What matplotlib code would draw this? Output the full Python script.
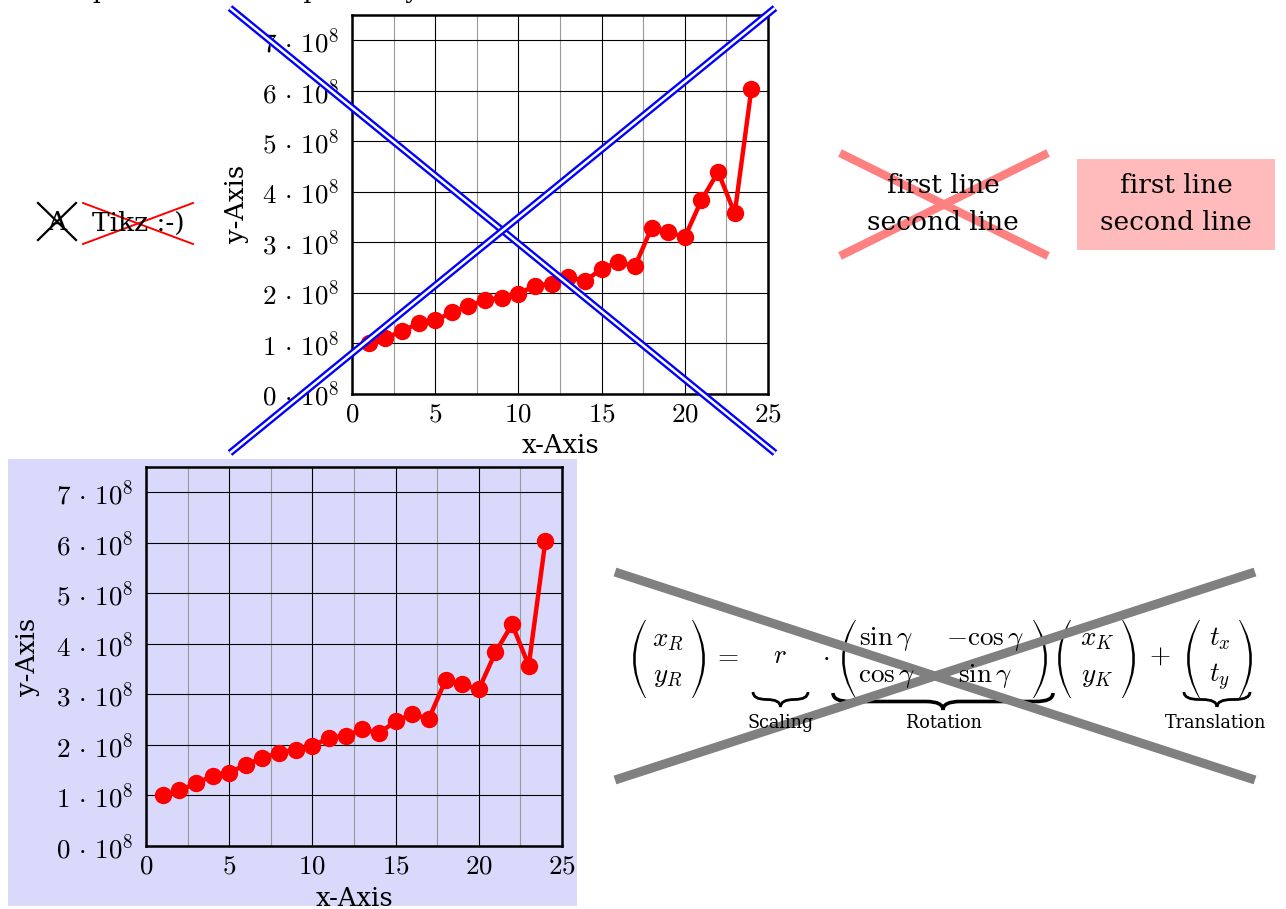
import matplotlib
matplotlib.use("Agg")
import matplotlib.pyplot as plt
from matplotlib.path import Path
from matplotlib.patches import PathPatch, Rectangle
from matplotlib.ticker import FixedLocator

plt.rcParams['font.family'] = ['DejaVu Serif']
plt.rcParams['mathtext.fontset'] = 'cm'

# ---- データ ----
x_vals = list(range(1, 25))
y_vals = [1.00, 1.10, 1.24, 1.39, 1.45, 1.61, 1.74, 1.85, 1.90, 1.98, 2.14, 2.18,
          2.31, 2.23, 2.47, 2.61, 2.52, 3.28, 3.20, 3.10, 3.83, 4.39, 3.57, 6.03]
y_unit = 1e8
x_ticks = [0, 5, 10, 15, 20, 25]
x_minor = [2.5, 7.5, 12.5, 17.5, 22.5]
y_ticks = [0, 1, 2, 3, 4, 5, 6, 7]
x_label = "x-Axis"
y_label = "y-Axis"
node_lines = "first line\nsecond line"
brace_labels = ["Scaling", "Rotation", "Translation"]
vec_R = [r'$x_R$', r'$y_R$']
mat_rot = [[r'$\sin\gamma$', r'$-\cos\gamma$'], [r'$\cos\gamma$', r'$\sin\gamma$']]
vec_K = [r'$x_K$', r'$y_K$']
vec_t = [r'$t_x$', r'$t_y$']

W, H = 1286, 909
fig = plt.figure(figsize=(W / 100, H / 100), dpi=100)

def px_axes(l, t, r, b, z):
    return fig.add_axes([l / W, 1 - b / H, (r - l) / W, (b - t) / H], zorder=z)

# ---- 背景 ----
ax_bg = fig.add_axes([0, 0, 1, 1], zorder=0)
ax_bg.set_xlim(0, W); ax_bg.set_ylim(H, 0); ax_bg.axis('off')
ax_bg.add_patch(Rectangle((8, 459), 569, 447, color='#d9d9fb', lw=0))

def draw_plot(ax):
    ax.set_facecolor('none')
    ax.plot(x_vals, [v * y_unit for v in y_vals], '-o', color='red', lw=3.2, ms=11.5)
    ax.set_xlim(0, 25)
    ax.set_ylim(0, 7.5 * y_unit)
    ax.set_xticks(x_ticks)
    ax.set_xticklabels([f'${t}$' for t in x_ticks])
    ax.xaxis.set_minor_locator(FixedLocator(x_minor))
    ax.set_yticks([t * y_unit for t in y_ticks])
    ax.set_yticklabels([rf'${t}\,\cdot\,10^{{8}}$' for t in y_ticks])
    ax.grid(which='major', color='black', lw=0.8)
    ax.grid(which='minor', axis='x', color='#999999', lw=0.8)
    ax.set_axisbelow(True)
    for s in ax.spines.values():
        s.set_linewidth(1.8)
    ax.tick_params(which='both', direction='in', length=0, labelsize=19.5)
    ax.tick_params(axis='x', pad=5)
    ax.tick_params(axis='y', pad=9)
    ax.set_xlabel(x_label, fontsize=18.5)
    ax.set_ylabel(y_label, fontsize=18.5)
    ax.xaxis.set_label_coords(0.5, -0.105)
    ax.yaxis.set_label_coords(-0.248, 0.5)

ax_top = px_axes(352, 15, 768, 393.6, 1)
draw_plot(ax_top)
ax_bot = px_axes(146, 467, 562, 846, 1)
draw_plot(ax_bot)
ax_bot.yaxis.set_label_coords(-0.255, 0.5)

# ---- 注記レイヤー ----
ax = fig.add_axes([0, 0, 1, 1], zorder=5)
ax.set_xlim(0, W); ax.set_ylim(H, 0); ax.axis('off')

# 上端で切れたタイトル
ax.text(22, -2, "Example data of a simple study", fontsize=18, va='baseline')

# 二重線の青いクロス
for (x0, y0, x1, y1) in [(230, 8, 775, 453), (230, 453, 775, 8)]:
    ax.plot([x0, x1], [y0, y1], color='blue', lw=5.2, solid_capstyle='butt')
    ax.plot([x0, x1], [y0, y1], color='white', lw=1.8, solid_capstyle='butt')

# A と Tikz :-)
ax.text(57, 222, "A", fontsize=19, ha='center', va='center')
ax.plot([38, 76], [203, 240], color='black', lw=1.6)
ax.plot([38, 76], [240, 203], color='black', lw=1.6)
ax.text(138, 223, "Tikz :-)", fontsize=19, ha='center', va='center')
ax.plot([83, 193], [203, 244], color='red', lw=1.4)
ax.plot([83, 193], [244, 203], color='red', lw=1.4)

# ピンクのクロスと箱
ax.plot([840, 1048], [153, 256], color='#ff8080', lw=6, solid_capstyle='butt')
ax.plot([840, 1048], [256, 153], color='#ff8080', lw=6, solid_capstyle='butt')
ax.text(943, 204, node_lines, fontsize=19, ha='center', va='center',
        linespacing=1.56, multialignment='center')
ax.add_patch(Rectangle((1077, 159), 198, 91, color='#ffbbbb', lw=0))
ax.text(1176, 204, node_lines, fontsize=19, ha='center', va='center',
        linespacing=1.56, multialignment='center')

# ---- 行列の式 ----
fs = 19.5
row_b = [645, 682]   # 各行のベースライン
mid_b = 663

def paren(xl, xr, top, bot, left=True, th=2.6, tip=0.9):
    mid = (top + bot) / 2
    if left:
        end, belly, end_in, belly_in = xr, xl, xr + tip, xl + th
    else:
        end, belly, end_in, belly_in = xl, xr, xl - tip, xr - th
    verts = [(end, top), (2 * belly - end, mid), (end, bot),
             (end_in, bot), (2 * belly_in - end_in, mid), (end_in, top),
             (end, top)]
    codes = [Path.MOVETO, Path.CURVE3, Path.CURVE3,
             Path.LINETO, Path.CURVE3, Path.CURVE3, Path.CLOSEPOLY]
    ax.add_patch(PathPatch(Path(verts, codes), color='black', lw=0))

def column(cx, entries):
    for yb, s in zip(row_b, entries):
        ax.text(cx, yb, s, fontsize=fs, ha='center', va='baseline')

paren(633, 645, 620, 698, True); paren(693, 705, 620, 698, False)
column(668, vec_R)
ax.text(726, mid_b, r'$=$', fontsize=fs, ha='center', va='baseline')
ax.text(780, mid_b, r'$r$', fontsize=fs, ha='center', va='baseline')
ax.text(826, mid_b, r'$\cdot$', fontsize=fs, ha='center', va='baseline')
paren(842, 855, 620, 698, True); paren(1034, 1047, 620, 698, False)
column(886, [mat_rot[0][0], mat_rot[1][0]])
column(985, [mat_rot[0][1], mat_rot[1][1]])
paren(1058, 1070, 620, 698, True); paren(1123, 1135, 620, 698, False)
column(1097, vec_K)
ax.text(1160, mid_b, r'$+$', fontsize=fs, ha='center', va='baseline')
paren(1187, 1199, 620, 698, True); paren(1240, 1252, 620, 698, False)
column(1220, vec_t)

def brace(x0, x1, y, h, lw=2.0):
    xm = (x0 + x1) / 2
    q = min(h, (x1 - x0) / 4)
    ym = y + h / 2
    verts = [(x0, y), (x0, ym), (x0 + q, ym),
             (xm - q, ym),
             (xm, ym), (xm, y + h),
             (xm, ym), (xm + q, ym),
             (x1 - q, ym),
             (x1, ym), (x1, y)]
    codes = [Path.MOVETO, Path.CURVE3, Path.CURVE3,
             Path.LINETO,
             Path.CURVE3, Path.CURVE3,
             Path.CURVE3, Path.CURVE3,
             Path.LINETO,
             Path.CURVE3, Path.CURVE3]
    ax.add_patch(PathPatch(Path(verts, codes), fill=False, lw=lw, color='black'))

brace(753, 808, 692, 15)
brace(833, 1053, 693, 17, lw=2.6)
brace(1184, 1250, 692, 15)
for cx, lab in zip([781, 944, 1216], brace_labels):
    ax.text(cx, 723, lab, fontsize=14, fontstretch='condensed', ha='center', va='center')

# グレーのクロス
ax.plot([615, 1255], [572, 780], color='#808080', lw=6.5, solid_capstyle='butt')
ax.plot([615, 1255], [780, 572], color='#808080', lw=6.5, solid_capstyle='butt')

fig.savefig("out.png", dpi=100)
